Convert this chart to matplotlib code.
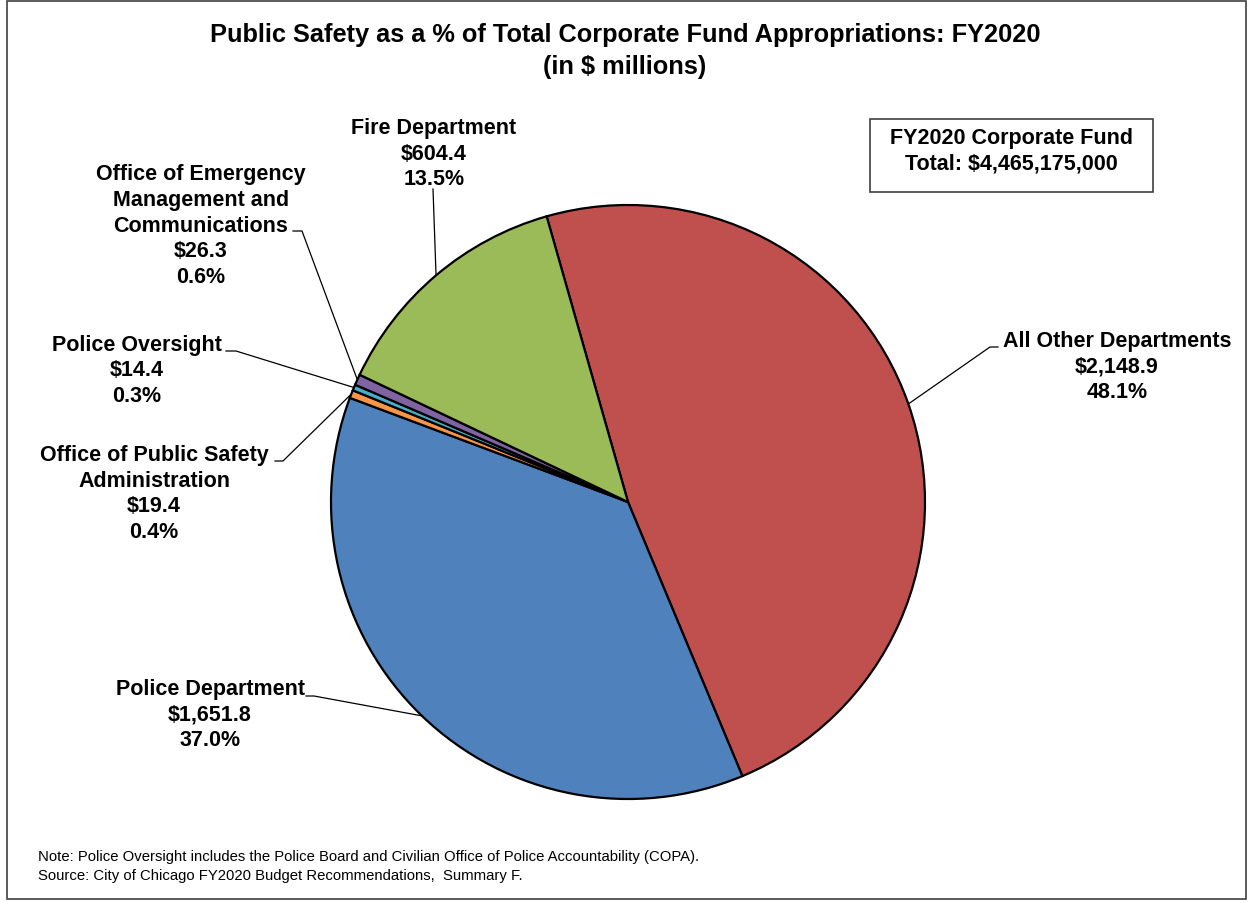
import numpy as np
import matplotlib
matplotlib.use('Agg')
import matplotlib.pyplot as plt
from matplotlib.patches import Rectangle

plt.rcParams['font.family'] = ['Liberation Sans', 'DejaVu Sans']

# Data (in $ millions), clockwise from the top
departments = ['All Other Departments', 'Police Department', 'Office of Public Safety\nAdministration',
               'Police Oversight', 'Office of Emergency\nManagement and\nCommunications', 'Fire Department']
amounts = [2148.9, 1651.8, 19.4, 14.4, 26.3, 604.4]
amount_labels = ['$2,148.9', '$1,651.8', '$19.4', '$14.4', '$26.3', '$604.4']
pct_labels = ['48.1%', '37.0%', '0.4%', '0.3%', '0.6%', '13.5%']
colors = ['#C0504D', '#4F81BD', '#F79646', '#4BACC6', '#8064A2', '#9BBB59']
total_text = 'FY2020 Corporate Fund\nTotal: $4,465,175,000'

W, H = 1250, 904
fig = plt.figure(figsize=(W / 100, H / 100), dpi=100)

# overlay in pixel coordinates for text and leader lines
ov = fig.add_axes([0, 0, 1, 1])
ov.set_xlim(0, W)
ov.set_ylim(H, 0)
ov.axis('off')

# pie axes: centre (628, 503), radius 297 px
cx, cy, r = 628, 503, 297
ax = fig.add_axes([(cx - r) / W, (H - cy - r) / H, 2 * r / W, 2 * r / H])
wedges, _ = ax.pie(amounts, colors=colors, startangle=105.9, counterclock=False, radius=1,
                   wedgeprops=dict(edgecolor='black', linewidth=1.6))
ax.set_xlim(-1, 1)
ax.set_ylim(-1, 1)
ax.axis('off')

# chart border
ov.add_patch(Rectangle((7, 2), 1239, 898, fill=False, edgecolor='#404040', linewidth=1.2))

ov.text(625, 51, 'Public Safety as a % of Total Corporate Fund Appropriations: FY2020\n(in $ millions)',
        ha='center', va='center', fontsize=18.3, fontweight='bold', linespacing=1.43)

# label centres, elbow points and tick ends (pixels)
label_pos = [(1117, 367), (210, 715), (154, 494), (137, 371), (201, 226), (434, 154)]
elbows = [(990, 348), (314, 697), (283, 462), (236, 352), (302, 232), (433, 190)]
ticks = [(998, 348), (306, 697), (275, 462), (226, 352), (293, 232), None]

fig.canvas.draw()
for i, w in enumerate(wedges):
    ov.text(label_pos[i][0], label_pos[i][1], f'{departments[i]}\n{amount_labels[i]}\n{pct_labels[i]}',
            ha='center', va='center', fontsize=15.5, fontweight='bold', linespacing=1.3)
    mid = np.deg2rad((w.theta1 + w.theta2) / 2)
    disp = ax.transData.transform((np.cos(mid), np.sin(mid)))
    ex, ey = ov.transData.inverted().transform(disp)
    xs = [ex, elbows[i][0]]
    ys = [ey, elbows[i][1]]
    if ticks[i] is not None:
        xs.append(ticks[i][0])
        ys.append(ticks[i][1])
    ov.plot(xs, ys, color='black', linewidth=0.9)

# total box
ov.add_patch(Rectangle((870, 120), 283, 73, fill=False, edgecolor='#404040', linewidth=1.2))
ov.text(1011, 151, total_text, ha='center', va='center', fontsize=15.5, fontweight='bold', linespacing=1.3)

ov.text(38, 857, 'Note: Police Oversight includes the Police Board and Civilian Office of Police Accountability (COPA).',
        ha='left', va='center', fontsize=10.7)
ov.text(38, 876, 'Source: City of Chicago FY2020 Budget Recommendations,  Summary F.',
        ha='left', va='center', fontsize=10.7)

fig.savefig('out.png', dpi=100)
